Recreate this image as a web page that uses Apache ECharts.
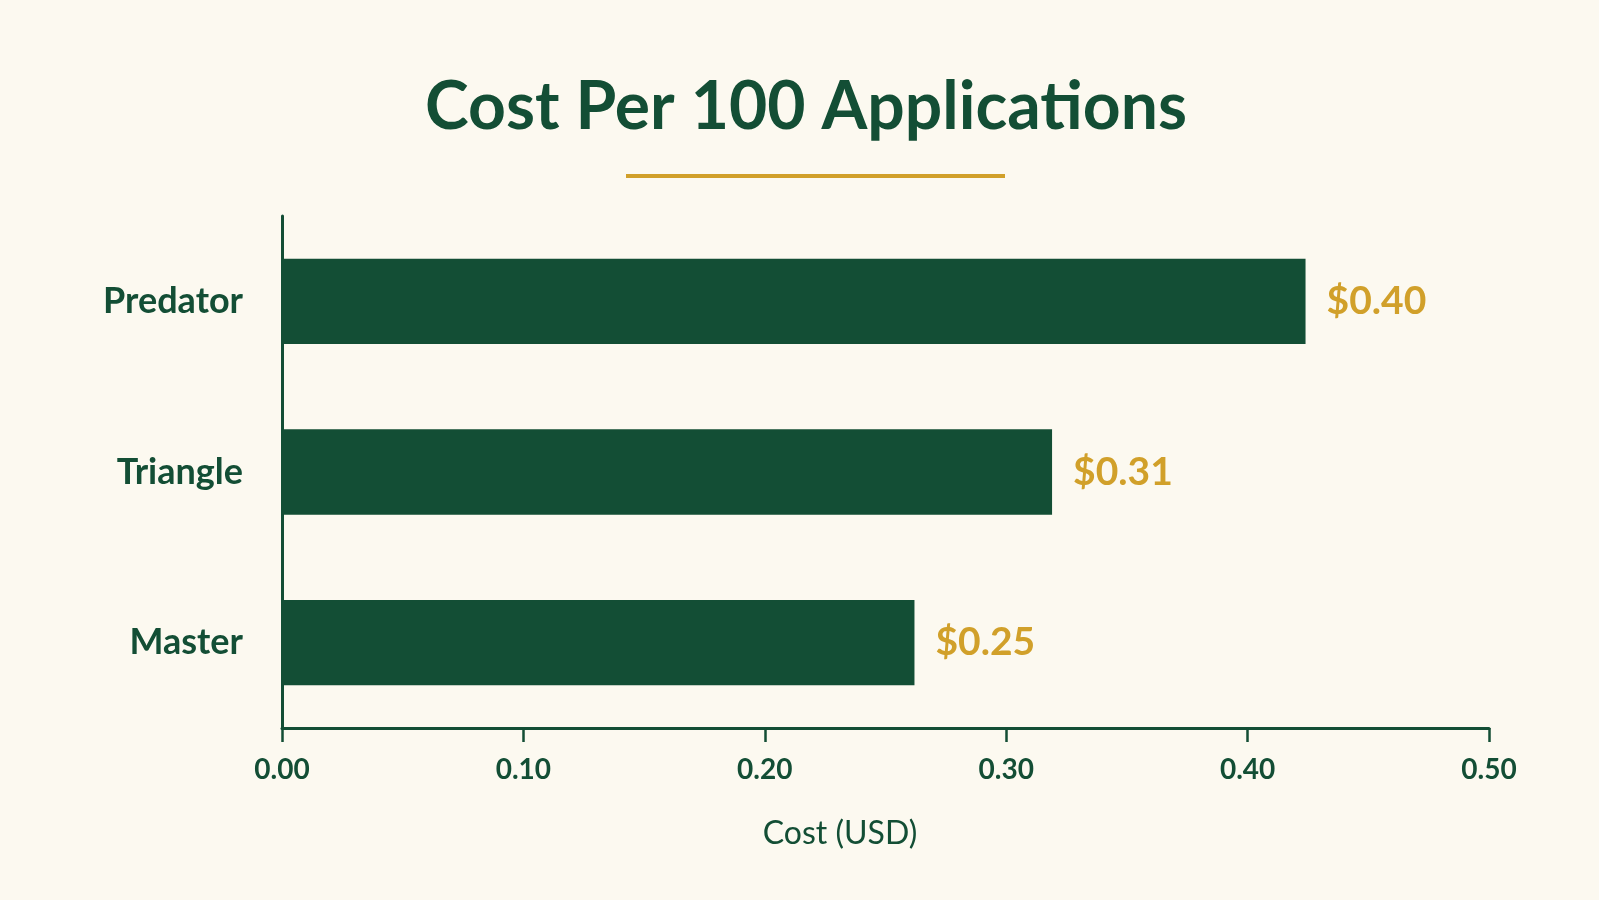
<!DOCTYPE html>
<html>
<head>
<meta charset="utf-8">
<script src="https://cdn.jsdelivr.net/npm/echarts@6/dist/echarts.min.js"></script>
<style>
html,body{margin:0;padding:0;background:#fcf9f0;}
#c{width:1599px;height:900px;}
</style>
</head>
<body>
<div id="c"></div>
<script>
const categories = ['Predator', 'Triangle', 'Master'];
const costValues = [0.424, 0.319, 0.262];
const costLabels = ['$0.40', '$0.31', '$0.25'];
const xTicks = { min: 0, max: 0.5, interval: 0.1 };

const green = '#134e35';
const gold = '#d1a02a';
const chart = echarts.init(document.getElementById('c'));
chart.setOption({
  backgroundColor: '#fcf9f0',
  title: {
    text: 'Cost Per 100 Applications',
    left: 420,
    top: 70,
    textStyle: { fontFamily: 'Lato', fontWeight: 'bold', fontSize: 66, color: green }
  },
  graphic: [{
    type: 'rect',
    shape: { x: 626, y: 174, width: 379, height: 4 },
    style: { fill: gold }
  }],
  grid: { left: 282, right: 110, top: 216, bottom: 172, containLabel: false },
  xAxis: {
    type: 'value',
    min: xTicks.min, max: xTicks.max, interval: xTicks.interval,
    axisLine: { show: true, lineStyle: { color: green, width: 3 } },
    axisTick: { show: true, length: 14, lineStyle: { color: green, width: 2.5 } },
    splitLine: { show: false },
    axisLabel: {
      margin: 28, color: green, fontFamily: 'Lato', fontWeight: 'bold', fontSize: 28,
      formatter: v => v.toFixed(2)
    },
    name: 'Cost (USD)',
    nameLocation: 'middle',
    nameGap: 90,
    nameTextStyle: { color: green, fontFamily: 'Lato', fontSize: 32, padding: [0, 91, 0, 0] }
  },
  yAxis: {
    type: 'category',
    inverse: true,
    data: categories,
    axisLine: { show: true, lineStyle: { color: green, width: 3 } },
    axisTick: { show: false },
    axisLabel: { margin: 39, color: green, fontFamily: 'Lato', fontWeight: 'bold', fontSize: 36 }
  },
  series: [{
    type: 'bar',
    data: costValues,
    barWidth: '50%',
    itemStyle: { color: green },
    label: {
      show: true, position: 'right', distance: 21,
      color: gold, fontFamily: 'Lato', fontWeight: 'bold', fontSize: 39,
      formatter: p => costLabels[p.dataIndex]
    }
  }]
});
</script>
</body>
</html>
